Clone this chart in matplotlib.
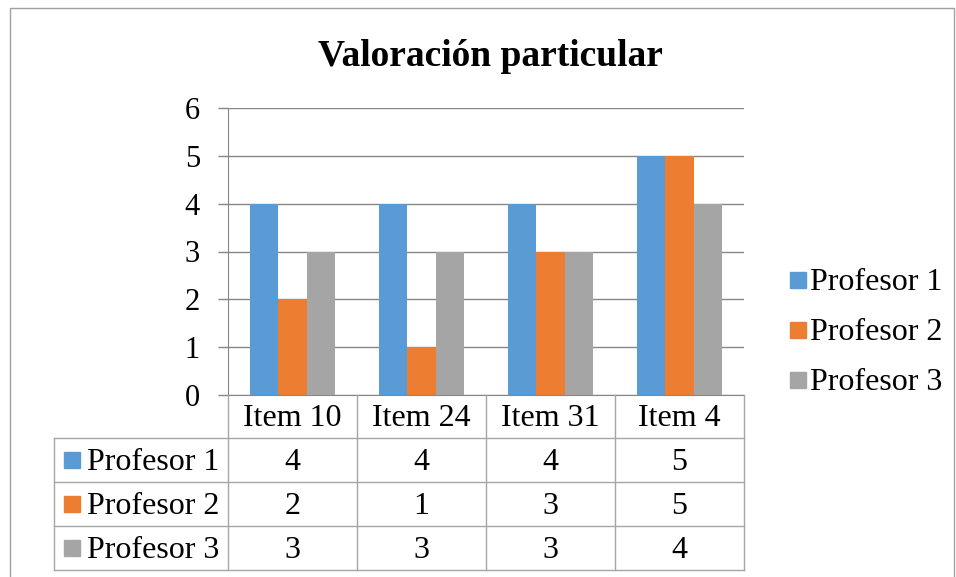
import matplotlib
matplotlib.use('Agg')
import matplotlib.pyplot as plt
import numpy as np
from matplotlib.patches import Rectangle
from matplotlib.lines import Line2D

items = ['Item 10', 'Item 24', 'Item 31', 'Item 4']
series = ['Profesor 1', 'Profesor 2', 'Profesor 3']
profesor_1 = [4, 4, 4, 5]
profesor_2 = [2, 1, 3, 5]
profesor_3 = [3, 3, 3, 4]
values = [profesor_1, profesor_2, profesor_3]
colors = ['#5B9BD5', '#ED7D31', '#A5A5A5']

W, H = 956, 577
plt.rcParams['font.family'] = ['Liberation Serif', 'DejaVu Serif']

fig = plt.figure(figsize=(W / 100, H / 100), dpi=100)


def fx(px):
    return px / W


def fy(py):
    return 1 - py / H


grid_col = '#868686'
table_col = '#A6A6A6'

# plot area
left, right, top, bottom = 228, 744, 108, 395
ax = fig.add_axes([fx(left), fy(bottom), fx(right) - fx(left), fy(top) - fy(bottom)])
x = np.arange(len(items))
width = 0.22
for k, (vals, col) in enumerate(zip(values, colors)):
    ax.bar(x + (k - 1) * width, vals, width, color=col, zorder=3)

ax.set_xlim(-0.5, len(items) - 0.5)
ax.set_ylim(0, 6)
ax.set_yticks(range(0, 7))
ax.set_xticks([])
ax.yaxis.grid(True, color=grid_col, linewidth=1, zorder=0)
ax.tick_params(axis='y', length=7.2, width=1, color=grid_col, pad=13, labelsize=22)
for s in ['top', 'right']:
    ax.spines[s].set_visible(False)
ax.spines['left'].set_color(grid_col)
ax.spines['bottom'].set_color(grid_col)

# data table below the plot
col_w = (right - left) / len(items)
head_top, head_bot = 395, 438
row_h = 44
tbl_left = 54
fs = 23
dy = 2  # small downward nudge of the text


def hline(y, x0, x1):
    fig.add_artist(Line2D([fx(x0), fx(x1)], [fy(y), fy(y)], color=table_col, lw=1))


def vline(xp, y0, y1):
    fig.add_artist(Line2D([fx(xp), fx(xp)], [fy(y0), fy(y1)], color=table_col, lw=1))


for i, name in enumerate(items):
    cx = left + (i + 0.5) * col_w
    fig.text(fx(cx), fy((head_top + head_bot) / 2 + dy), name, ha='center', va='center', fontsize=fs)
for i in range(len(items) + 1):
    vline(left + i * col_w, head_top, head_bot + row_h * len(series))
vline(tbl_left, head_bot, head_bot + row_h * len(series))
for r in range(len(series) + 1):
    hline(head_bot + r * row_h, tbl_left, right)

for r, (name, vals, col) in enumerate(zip(series, values, colors)):
    cy = head_bot + (r + 0.5) * row_h
    fig.add_artist(Rectangle((fx(64), fy(cy + 8)), fx(16), 16 / H, color=col))
    fig.text(fx(87), fy(cy + dy), name, ha='left', va='center', fontsize=fs)
    for i, v in enumerate(vals):
        cx = left + (i + 0.5) * col_w
        fig.text(fx(cx), fy(cy + dy), str(v), ha='center', va='center', fontsize=fs)

# legend
for r, (name, col) in enumerate(zip(series, colors)):
    cy = 280 + r * 50
    fig.add_artist(Rectangle((fx(790), fy(cy + 8)), fx(16), 16 / H, color=col))
    fig.text(fx(810), fy(cy + dy), name, ha='left', va='center', fontsize=fs)

# title
fig.text(fx(490), fy(56), 'Valoración particular', ha='center', va='center',
         fontsize=27, fontweight='bold')

# chart frame
frame_col = '#A0A0A0'
fig.add_artist(Line2D([fx(10), fx(10), fx(954), fx(954)], [0, fy(8), fy(8), 0],
                      color=frame_col, lw=1))

fig.savefig('out.png', dpi=100)
